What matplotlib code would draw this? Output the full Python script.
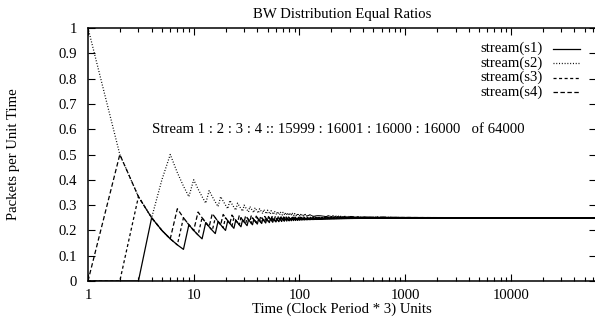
import numpy as np
import matplotlib
matplotlib.use("Agg")
import matplotlib.pyplot as plt
from matplotlib.lines import Line2D
from matplotlib.ticker import LogLocator, FixedLocator, NullFormatter

# ---- data -------------------------------------------------------------
# which stream got each clock slot: start-up slots 1..5, then round robin
streams = ["stream(s1)", "stream(s2)", "stream(s3)", "stream(s4)"]
startup_slots = [2, 4, 3, 1, 2]
cycle_slots = [2, 4, 3, 1]
n_slots = 64000
final_counts = [15999, 16001, 16000, 16000]   # from the chart annotation

styles = [
    "-",
    (0, (0.7, 1.3)),
    (0, (2.2, 1.8)),
    (0, (3.2, 1.8)),
]

yticks = [0, 0.1, 0.2, 0.3, 0.4, 0.5, 0.6, 0.7, 0.8, 0.9, 1]
ytick_labels = ["0", "0.1", "0.2", "0.3", "0.4", "0.5", "0.6", "0.7", "0.8", "0.9", "1"]
xticks = [1, 10, 100, 1000, 10000]
xtick_labels = ["1", "10", "100", "1000", "10000"]

plt.rcParams.update({
    "font.family": "Liberation Serif",
    "font.size": 10.6,
    "lines.scale_dashes": False,
    "path.simplify": False,
})

# packets per unit time = cumulative packets / elapsed slots
n_rest = n_slots - len(startup_slots)
owner = np.concatenate([startup_slots,
                        np.tile(cycle_slots, n_rest // len(cycle_slots) + 1)[:n_rest]])
t = np.arange(1, n_slots + 1)
rates = []
for k in range(4):
    cnt = np.cumsum(owner == k + 1)
    assert cnt[-1] == final_counts[k]
    rates.append(cnt / t)

W, H = 595, 320
fig = plt.figure(figsize=(W / 100, H / 100), dpi=100)
L, R, T, B = 88, 596, 28, 281
ax = fig.add_axes([L / W, 1 - B / H, (R - L) / W, (B - T) / H])

for k in range(4):
    ax.plot(t, rates[k], color="black", lw=0.9, ls=styles[k])

ax.set_xscale("log")
ax.set_xlim(1, n_slots)
ax.set_ylim(0, 1)
ax.xaxis.set_major_locator(FixedLocator(xticks))
ax.set_xticklabels(xtick_labels)
ax.xaxis.set_minor_locator(LogLocator(base=10, subs=np.arange(2, 10)))
ax.xaxis.set_minor_formatter(NullFormatter())
ax.set_yticks(yticks)
ax.set_yticklabels(ytick_labels)

ax.tick_params(which="both", direction="in", top=True, right=True, width=0.8)
ax.tick_params(which="major", length=5)
ax.tick_params(which="minor", length=3)
ax.tick_params(axis="y", pad=8)
ax.tick_params(axis="x", pad=6)
for s in ax.spines.values():
    s.set_linewidth(1.1)

ax.set_title("BW Distribution Equal Ratios", pad=7, fontsize=10.6)
ax.set_xlabel("Time (Clock Period * 3) Units")
ax.xaxis.set_label_coords(0.5, (B - 309) / (B - T))
ax.xaxis.label.set_va("center")
ax.set_ylabel("Packets per Unit Time")
ax.yaxis.set_label_coords((14 - L) / (R - L), 0.5)
ax.yaxis.label.set_va("center")

ax.text(4, 0.6, "Stream 1 : 2 : 3 : 4 :: 15999 : 16001 : 16000 : 16000   of 64000",
        ha="left", va="center")

# gnuplot-style key, top right
for k, name in enumerate(streams):
    py = 48.5 + 14.5 * k
    yy = (B - py) / (B - T)
    ax.text((543 - L) / (R - L), yy, name, transform=ax.transAxes,
            ha="right", va="center")
    ax.add_line(Line2D([(553 - L) / (R - L), (580 - L) / (R - L)], [yy, yy],
                       transform=ax.transAxes, color="black", lw=0.9, ls=styles[k]))

fig.savefig("out.png", dpi=100)
